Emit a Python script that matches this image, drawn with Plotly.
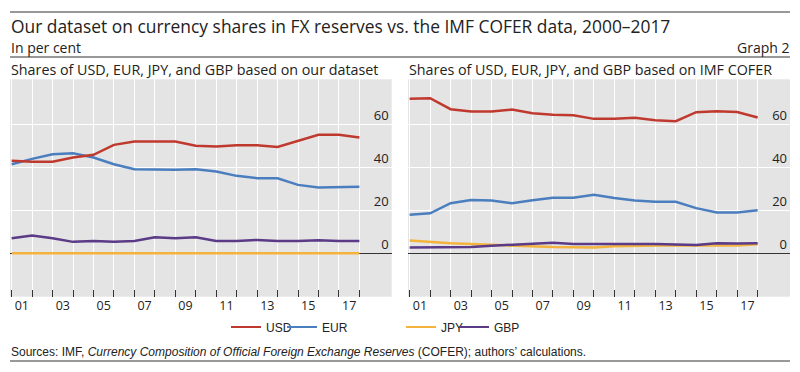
import plotly.graph_objects as go

years = list(range(2000, 2018))

# Left panel: our dataset
ours_usd = [43.0, 42.6, 42.6, 44.5, 45.8, 50.4, 52.0, 52.0, 52.0, 50.0, 49.7, 50.2, 50.2, 49.4, 52.3, 55.1, 55.1, 53.8]
ours_eur = [41.4, 43.9, 46.0, 46.5, 44.5, 41.4, 39.1, 38.8, 38.8, 39.1, 38.0, 36.0, 34.9, 34.9, 31.8, 30.6, 30.7, 30.9]
ours_jpy = [0.0] * 18
ours_gbp = [7.0, 8.2, 7.0, 5.3, 5.7, 5.3, 5.7, 7.4, 7.0, 7.4, 5.7, 5.7, 6.2, 5.7, 5.7, 6.0, 5.7, 5.7]

# Right panel: IMF COFER
cofer_usd = [71.8, 72.1, 67.0, 65.9, 65.9, 66.8, 65.1, 64.4, 64.2, 62.5, 62.5, 63.0, 61.9, 61.4, 65.6, 66.0, 65.7, 63.1]
cofer_eur = [17.9, 18.6, 23.3, 24.8, 24.5, 23.3, 24.6, 25.8, 25.8, 27.2, 25.7, 24.5, 23.9, 23.9, 21.0, 19.0, 19.0, 20.0]
cofer_jpy = [5.9, 5.1, 4.6, 4.3, 3.9, 3.6, 3.1, 2.9, 2.8, 2.7, 3.3, 3.5, 3.8, 3.7, 3.6, 3.5, 3.6, 4.2]
cofer_gbp = [2.7, 2.7, 2.7, 2.9, 3.5, 4.0, 4.5, 4.9, 4.3, 4.2, 4.3, 4.3, 4.3, 4.2, 3.9, 4.7, 4.5, 4.7]

tick_label_pos = [2000.5 + 2 * i for i in range(9)]
tick_labels = ["01", "03", "05", "07", "09", "11", "13", "15", "17"]

series_names = ["USD", "EUR", "JPY", "GBP"]
colors = {"USD": "#c0392f", "EUR": "#4a7ebf", "JPY": "#f3b33d", "GBP": "#5b3a87"}

TXT = "#222222"
SANS = "Open Sans, Noto Sans, sans-serif"
NARROW = "Liberation Sans Narrow, Arial Narrow, sans-serif"

fig = go.Figure()

left = {"USD": ours_usd, "EUR": ours_eur, "JPY": ours_jpy, "GBP": ours_gbp}
right = {"USD": cofer_usd, "EUR": cofer_eur, "JPY": cofer_jpy, "GBP": cofer_gbp}

draw_order = ["JPY", "GBP", "EUR", "USD"]
for name in draw_order:
    fig.add_trace(go.Scatter(x=years, y=left[name], mode="lines", name=name,
                             line=dict(color=colors[name], width=2.5),
                             xaxis="x", yaxis="y", showlegend=False))
for name in draw_order:
    fig.add_trace(go.Scatter(x=years, y=right[name], mode="lines", name=name,
                             line=dict(color=colors[name], width=2.5),
                             xaxis="x2", yaxis="y2", showlegend=False))

# legend entries: one legend per series so each can be placed like the reference
legend_ids = {"USD": "legend", "EUR": "legend2", "JPY": "legend3", "GBP": "legend4"}
for name in series_names:
    fig.add_trace(go.Scatter(x=[None], y=[None], mode="lines", name=name,
                             line=dict(color=colors[name], width=2),
                             xaxis="x", yaxis="y", showlegend=True,
                             legend=legend_ids[name]))

# empty traces to register label axes
fig.add_trace(go.Scatter(x=[], y=[], xaxis="x3", yaxis="y", showlegend=False))
fig.add_trace(go.Scatter(x=[], y=[], xaxis="x4", yaxis="y2", showlegend=False))

W, H = 800, 372
def px_x(p):
    return p / W
def px_y(p):
    return 1 - p / H

xr = [1999.92, 2018.58]
yr = [-20.2, 80.9]
ydom = [px_y(296.7), px_y(79.3)]

common_x = dict(range=xr, tickvals=years, ticktext=[""] * len(years), ticks="inside",
                ticklen=7, tickwidth=1, tickcolor="#333333", showgrid=True,
                gridcolor="white", gridwidth=1, showline=False, zeroline=False,
                fixedrange=True)
common_y = dict(range=yr, tickvals=[0, 20, 40, 60], side="right",
                ticklabelposition="inside top", showgrid=True, gridcolor="white",
                gridwidth=1, zeroline=True, zerolinecolor="#333333", zerolinewidth=1,
                showline=False, ticks="", tickfont=dict(family=SANS, size=13, color=TXT),
                domain=ydom, fixedrange=True)
label_x = dict(range=xr, tickvals=tick_label_pos, ticktext=tick_labels, ticks="",
               showgrid=False, zeroline=False, showline=False,
               tickfont=dict(family=SANS, size=12.5, color=TXT), fixedrange=True)

leg_common = dict(orientation="h", yanchor="middle", xanchor="left",
                  font=dict(family=NARROW, size=12, color=TXT), bgcolor="rgba(0,0,0,0)",
                  itemwidth=30, y=px_y(327))
text_starts = {"USD": 266, "EUR": 322, "JPY": 441, "GBP": 494}

fig.update_layout(
    width=W, height=H, autosize=False,
    margin=dict(l=0, r=0, t=0, b=0),
    paper_bgcolor="white", plot_bgcolor="#e4e4e4",
    xaxis=dict(domain=[px_x(10), px_x(391.7)], anchor="y", **common_x),
    xaxis2=dict(domain=[px_x(408), px_x(790)], anchor="y2", **common_x),
    xaxis3=dict(overlaying="x", anchor="y", **label_x),
    xaxis4=dict(overlaying="x2", anchor="y2", **label_x),
    yaxis=dict(anchor="x", **common_y),
    yaxis2=dict(anchor="x2", **common_y),
    showlegend=True,
)
fig.update_layout({legend_ids[n]: dict(x=px_x(text_starts[n] - 40), **leg_common)
                   for n in series_names})

annotations = [
    dict(text="Our dataset on currency shares in FX reserves vs. the IMF COFER data, 2000–2017",
         x=px_x(9), y=px_y(26), xanchor="left", yanchor="middle",
         font=dict(family=SANS, size=17.4, color=TXT)),
    dict(text="In per cent", x=px_x(9), y=px_y(47), xanchor="left", yanchor="middle",
         font=dict(family=SANS, size=14, color=TXT)),
    dict(text="Graph 2", x=px_x(791), y=px_y(47), xanchor="right", yanchor="middle",
         font=dict(family=SANS, size=14, color=TXT)),
    dict(text="Shares of USD, EUR, JPY, and GBP based on our dataset",
         x=px_x(9), y=px_y(69), xanchor="left", yanchor="middle",
         font=dict(family=SANS, size=14.3, color=TXT)),
    dict(text="Shares of USD, EUR, JPY, and GBP based on IMF COFER",
         x=px_x(407), y=px_y(69), xanchor="left", yanchor="middle",
         font=dict(family=SANS, size=14.3, color=TXT)),
    dict(text="Sources: IMF, <i>Currency Composition of Official Foreign Exchange Reserves</i> (COFER); authors’ calculations.",
         x=px_x(9), y=px_y(352), xanchor="left", yanchor="middle",
         font=dict(family=NARROW, size=12, color=TXT)),
]
for a in annotations:
    a.update(xref="paper", yref="paper", showarrow=False)
fig.update_layout(annotations=annotations)

shapes = []
for yy in (12, 57, 361):
    shapes.append(dict(type="line", xref="paper", yref="paper",
                       x0=px_x(10), x1=px_x(790), y0=px_y(yy), y1=px_y(yy),
                       line=dict(color="#333333", width=1)))
fig.update_layout(shapes=shapes)

fig.write_html("out.html", config={"displayModeBar": False},
               post_script="document.body.style.margin='0';document.body.style.overflow='hidden';")
